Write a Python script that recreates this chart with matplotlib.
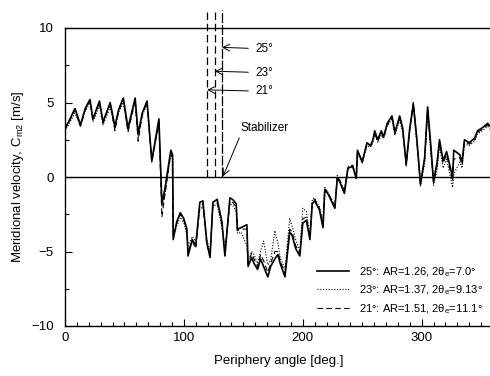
import matplotlib
matplotlib.use("Agg")
import matplotlib.pyplot as plt
from matplotlib.ticker import MultipleLocator

plt.rcParams['font.family'] = ['Liberation Sans', 'DejaVu Sans']
plt.rcParams['mathtext.fontset'] = 'custom'
plt.rcParams['mathtext.rm'] = 'Liberation Sans'
plt.rcParams['mathtext.it'] = 'Liberation Sans'

# periphery angle [deg]
angle = [0, 3, 8.4, 13, 17, 21, 23.5, 29, 32, 38,
         42, 45, 49, 53, 59, 61.5, 65, 69, 73, 79,
         81.5, 84, 89, 90.5, 91, 94, 97, 100, 102.5, 103.5,
         107, 110, 113.4, 116, 119.3, 122, 124.4, 128, 132, 134.5,
         138.7, 141, 144, 145, 148, 153, 154, 157, 159, 162,
         164.5, 167, 170.6, 173, 176.5, 179, 181, 185, 189, 191,
         194, 197.5, 200, 203, 206, 208, 210, 214, 217, 218.5,
         221, 227, 229, 231, 235, 238, 242, 245, 246, 250,
         254, 257, 259, 260.5, 263, 266, 268, 271, 275, 277.5,
         281.5, 284, 287, 290, 293, 296, 299, 302.5, 305, 307.5,
         310, 313, 315, 318, 321, 326, 327, 332, 334, 336,
         340, 344.5, 347, 351, 355.5, 360]

cm_25 = [3.3, 3.7, 4.6, 3.5, 4.6, 5.2, 3.9, 5.1, 3.7, 5.0,
         3.4, 4.5, 5.3, 3.3, 5.3, 2.9, 4.3, 5.1, 1.1, 3.9,
         -1.8, -0.8, 1.8, 1.5, -4.2, -3.0, -2.4, -2.8, -3.5, -5.3,
         -4.2, -4.6, -1.7, -1.6, -4.4, -5.4, -1.7, -1.5, -3.0, -5.3,
         -1.4, -1.5, -1.8, -3.5, -3.4, -3.2, -6.0, -5.4, -5.8, -6.2,
         -5.5, -6.0, -6.7, -6.0, -5.5, -5.2, -5.8, -6.7, -3.7, -3.9,
         -4.8, -5.3, -3.1, -2.9, -4.2, -1.8, -1.6, -2.2, -3.4, -0.9,
         -1.1, -2.1, -0.1, -0.3, -1.1, 0.6, 0.7, -0.1, 1.8, 1.0,
         2.3, 2.1, 2.5, 3.1, 2.5, 3.1, 2.7, 3.6, 4.1, 3.0,
         4.1, 3.3, 0.9, 3.3, 4.9, 2.5, -0.5, 1.3, 4.7, 2.3,
         -0.3, 1.0, 2.5, 1.1, 1.7, 0.0, 1.8, 1.5, 1.0, 2.5,
         2.3, 2.6, 3.1, 3.3, 3.6, 3.2]

cm_23 = [3.1, 3.5, 4.3, 3.4, 4.4, 5.0, 3.7, 4.8, 3.5, 4.7,
         3.2, 4.3, 5.0, 3.1, 5.0, 2.6, 4.1, 4.9, 1.0, 3.6,
         -2.0, -1.2, 1.5, 1.2, -3.9, -3.3, -2.7, -3.1, -3.9, -4.6,
         -4.0, -4.3, -2.2, -2.0, -4.1, -5.1, -2.0, -1.8, -3.4, -4.9,
         -1.8, -1.9, -2.3, -3.8, -3.7, -4.6, -5.7, -5.0, -5.2, -5.8,
         -5.0, -4.3, -5.9, -5.6, -3.6, -4.4, -5.4, -6.2, -2.8, -3.3,
         -4.2, -5.0, -2.1, -2.3, -3.9, -1.5, -1.4, -2.0, -3.0, -0.7,
         -1.0, -1.9, 0.1, -0.2, -0.9, 0.7, 0.8, 0.0, 1.6, 0.9,
         2.1, 2.0, 2.3, 2.9, 2.3, 2.8, 2.6, 3.4, 3.9, 2.8,
         3.8, 3.0, 0.7, 3.1, 4.7, 2.2, -0.6, 0.9, 4.4, 1.8,
         -0.6, 0.5, 2.1, 0.6, 1.2, -0.7, 0.2, 1.0, 0.6, 2.2,
         2.1, 2.4, 2.9, 3.1, 3.4, 3.0]

cm_21 = [3.2, 3.6, 4.5, 3.4, 4.5, 5.1, 3.8, 5.0, 3.6, 4.9,
         3.1, 4.4, 5.2, 3.0, 5.2, 2.4, 4.2, 5.0, 1.0, 3.7,
         -2.7, -1.2, 1.6, 1.3, -4.0, -3.1, -2.5, -2.9, -3.7, -5.0,
         -4.3, -4.8, -1.9, -1.8, -4.6, -5.2, -1.9, -1.7, -3.2, -5.1,
         -1.6, -1.7, -2.0, -3.6, -3.5, -3.5, -5.8, -5.1, -5.5, -6.0,
         -5.2, -5.6, -6.4, -5.8, -5.0, -5.0, -5.6, -6.5, -3.5, -3.7,
         -4.6, -5.1, -2.8, -2.7, -4.0, -1.6, -1.5, -2.1, -3.2, -0.8,
         -1.0, -2.0, 0.0, -0.2, -1.0, 0.6, 0.8, -0.1, 1.7, 1.1,
         2.2, 2.1, 2.4, 3.0, 2.4, 3.0, 2.6, 3.5, 4.0, 2.9,
         4.0, 3.2, 0.8, 3.2, 5.0, 2.4, -0.4, 1.1, 4.6, 2.1,
         -0.4, 0.8, 2.4, 0.9, 1.5, -0.3, 1.2, 1.3, 0.8, 2.4,
         2.2, 2.5, 3.0, 3.2, 3.5, 3.1]

labels = ['25°: AR=1.26, 2θ$_\\mathrm{e}$=7.0°',
          '23°: AR=1.37, 2θ$_\\mathrm{e}$=9.13°',
          '21°: AR=1.51, 2θ$_\\mathrm{e}$=11.1°']

# stabilizer positions and arrow label heights
stab_angles = [119.5, 126, 132]
stab_names = ['21°', '23°', '25°']
stab_label_y = [5.85, 7.1, 8.7]

fig = plt.figure(figsize=(4.9, 3.76), dpi=100)
ax = fig.add_axes([65/490, 50/376, 428/490, 298/376])

ax.plot(angle, cm_25, color='black', lw=1.2, ls='-', label=labels[0])
ax.plot(angle, cm_23, color='black', lw=0.8, ls=(0, (1, 1.5)), label=labels[1])
ax.plot(angle, cm_21, color='black', lw=0.8, ls=(0, (5, 3)), label=labels[2])

ax.axhline(0, color='black', lw=1.0)

ax.set_xlim(0, 360)
ax.set_ylim(-10, 10)
ax.xaxis.set_major_locator(MultipleLocator(100))
ax.xaxis.set_minor_locator(MultipleLocator(10))
ax.yaxis.set_major_locator(MultipleLocator(5))
ax.yaxis.set_minor_locator(MultipleLocator(2.5))
ax.tick_params(which='both', direction='in', top=False, right=False, labelsize=9.5)
ax.tick_params(which='major', length=5, width=0.8)
ax.tick_params(which='minor', length=3, width=0.8)
ax.tick_params(axis='y', pad=8)
ax.tick_params(axis='x', pad=4)
ax.spines['right'].set_visible(False)
for s in ['left', 'bottom', 'top']:
    ax.spines[s].set_linewidth(1.0)

ax.set_xlabel('Periphery angle [deg.]', fontsize=9.5, labelpad=8)
ax.set_ylabel('Meridional velocity, C$_{\\mathrm{m2}}$ [m/s]', fontsize=9.5, labelpad=4)

# stabilizer lines
dash_styles = [(0, (6, 3)), (0, (6, 3)), (0, (8, 1.5))]
for a, ds in zip(stab_angles, dash_styles):
    ax.plot([a, a], [0, 11.2], color='black', lw=0.9, ls=ds, clip_on=False)

for a, n, yy in zip(stab_angles, stab_names, stab_label_y):
    ax.annotate(n, xy=(a, yy), xytext=(160, yy - 0.1), fontsize=8.5, va='center', ha='left',
                arrowprops=dict(arrowstyle='->', lw=0.7, color='black',
                                shrinkA=3, shrinkB=0, mutation_scale=12))

ax.annotate('Stabilizer', xy=(133, 0.05), xytext=(148, 3.3), fontsize=8.5, va='center', ha='left',
            arrowprops=dict(arrowstyle='->', lw=0.7, color='black', relpos=(0.0, 0.0),
                            shrinkA=1, shrinkB=0, mutation_scale=12))

leg = ax.legend(loc='upper left', bbox_to_anchor=(212, -5.9), bbox_transform=ax.transData,
                frameon=False, fontsize=8, handlelength=2.9, handletextpad=0.9,
                labelspacing=0.45, borderpad=0, borderaxespad=0)

fig.savefig('out.png', dpi=100)
